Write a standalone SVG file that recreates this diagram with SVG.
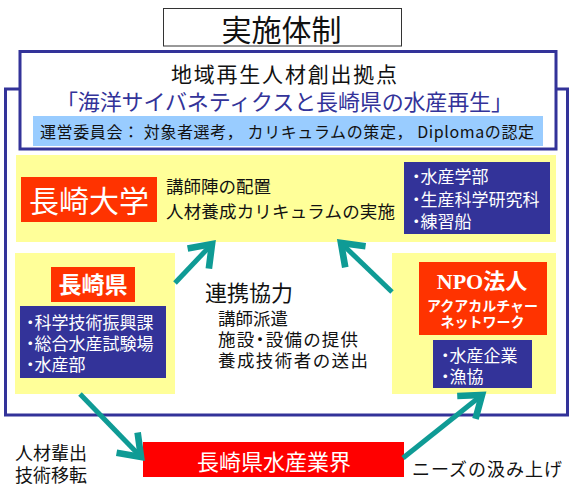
<svg xmlns="http://www.w3.org/2000/svg" width="575" height="497" viewBox="0 0 575 497">
<style>
text{font-family:"Noto Sans CJK JP","Liberation Sans",sans-serif;fill:#111}
.w{fill:#fff}
.p{font-feature-settings:"palt"}
.b{font-size:17px}
.navy{fill:#333399}
.yel{fill:#ffff99}
.red{fill:#ff3300}
.conn{stroke:#0f9b95;stroke-width:5;fill:none;marker-end:url(#ah)}
</style>
<defs>
<marker id="ah" markerUnits="userSpaceOnUse" markerWidth="40" markerHeight="40" viewBox="-20 -15 25 30" refX="0" refY="0" orient="auto" overflow="visible">
<path d="M-15,-11 L0,0 L-15,11" fill="none" stroke="#0f9b95" stroke-width="5"/>
</marker>
</defs>
<rect width="575" height="497" fill="#fff"/>

<g id="title">
<rect x="163.5" y="8.5" width="238" height="37.5" fill="#fff" stroke="#333" stroke-width="1"/>
<text x="281.5" y="41" font-size="30" text-anchor="middle">実施体制</text>
</g>

<g id="outer">
<rect x="5.5" y="89" width="562" height="326" fill="none" stroke="#333399" stroke-width="3"/>
</g>

<g id="hub">
<rect x="20" y="51.5" width="536" height="97.5" fill="#fff" stroke="#333399" stroke-width="3"/>
<text x="171" y="82" font-size="21" textLength="226" lengthAdjust="spacing">地域再生人材創出拠点</text>
<text x="56" y="110" font-size="22" textLength="457" lengthAdjust="spacing" style="fill:#333399">「海洋サイバネティクスと長崎県の水産再生」</text>
<rect x="33" y="116" width="510" height="30" fill="#99ccff"/>
<text x="40" y="138" font-size="16" textLength="494" lengthAdjust="spacing">運営委員会： 対象者選考， カリキュラムの策定， Diplomaの認定</text>
</g>

<g id="univ">
<rect x="16" y="155" width="540" height="87" class="yel"/>
<rect x="21" y="177" width="136" height="45" class="red"/>
<text x="89" y="212" font-size="30" text-anchor="middle" class="w">長崎大学</text>
<text x="166" y="193" font-size="17.5">講師陣の配置</text>
<text x="166" y="218" font-size="17.5" textLength="229" lengthAdjust="spacing">人材養成カリキュラムの実施</text>
<rect x="404" y="162" width="146" height="72" class="navy"/>
<text x="412" y="183" class="w p b">・水産学部</text>
<text x="412" y="206" class="w p b">・生産科学研究科</text>
<text x="412" y="228" class="w p b">・練習船</text>
</g>

<g id="pref">
<rect x="15" y="253" width="160" height="141" class="yel"/>
<rect x="51" y="267" width="84" height="35" class="red"/>
<text x="93" y="293" font-size="23" font-weight="bold" text-anchor="middle" class="w">長崎県</text>
<rect x="20" y="306" width="146" height="72" class="navy"/>
<text x="26" y="329" class="w p b">・科学技術振興課</text>
<text x="26" y="350" class="w p b">・総合水産試験場</text>
<text x="26" y="371" class="w p b">・水産部</text>
</g>

<g id="coop">
<text x="205" y="301" font-size="22">連携協力</text>
<text x="218" y="325" font-size="17.5">講師派遣</text>
<text x="218" y="346" font-size="17.5" class="p" textLength="140" lengthAdjust="spacing">施設・設備の提供</text>
<text x="218" y="367" font-size="17.5" textLength="150" lengthAdjust="spacing">養成技術者の送出</text>
</g>

<g id="npo">
<rect x="392" y="253" width="164" height="141" class="yel"/>
<rect x="419" y="262" width="128" height="73" class="red"/>
<text x="482" y="289" font-size="22" font-weight="bold" text-anchor="middle" class="w" style="font-family:'Liberation Serif','Noto Sans CJK JP',serif">NPO法人</text>
<text x="482.5" y="311" font-size="14" font-weight="bold" text-anchor="middle" class="w">アクアカルチャー</text>
<text x="482.5" y="327" font-size="14" font-weight="bold" text-anchor="middle" class="w">ネットワーク</text>
<rect x="433" y="340" width="99" height="48" class="navy"/>
<text x="441" y="362" class="w p b">・水産企業</text>
<text x="441" y="383" class="w p b">・漁協</text>
</g>

<g id="industry">
<rect x="143" y="442" width="261" height="35" fill="#ff0000"/>
<text x="274" y="470" font-size="22" text-anchor="middle" class="w">長崎県水産業界</text>
</g>

<g id="labels">
<text x="15" y="460" font-size="18">人材輩出</text>
<text x="15" y="482" font-size="18">技術移転</text>
<text x="412" y="476" font-size="18" textLength="150" lengthAdjust="spacing">ニーズの汲み上げ</text>
</g>

<g id="connectors">
<path class="conn" d="M175,283 L212,244"/>
<path class="conn" d="M392,292 L341,243"/>
<path class="conn" d="M80,394 L141,457"/>
<path class="conn" d="M403,458 L482,395"/>
</g>
</svg>
